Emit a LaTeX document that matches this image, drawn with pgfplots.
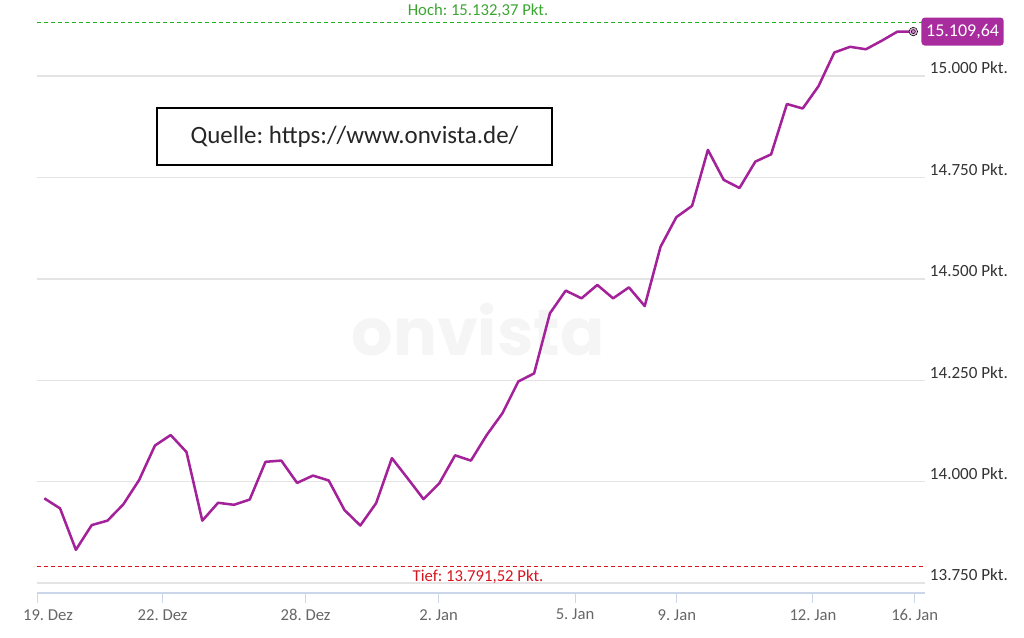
\documentclass[border=0pt]{standalone}
\usepackage{pgfplots}
\pgfplotsset{compat=1.18}
\usepackage{pgfplotstable}
\usepackage{fontspec}
\setmainfont{Carlito}
\newfontfamily\wmfont{Poppins}
\frenchspacing
\definecolor{lineP}{RGB}{163,34,153}
\definecolor{badgeP}{RGB}{168,44,158}
\definecolor{hochG}{RGB}{34,175,34}
\definecolor{hochT}{RGB}{60,165,50}
\definecolor{tiefR}{RGB}{215,20,30}
\definecolor{gridC}{RGB}{228,228,228}
\definecolor{tickB}{RGB}{204,214,235}
\definecolor{ylab}{RGB}{51,51,51}
\definecolor{xlab}{RGB}{102,102,102}
\definecolor{wm}{RGB}{245,245,245}
\pgfplotstableread{
i v
0 13959
1 13934
2 13832
3 13893
4 13904
5 13944
6 14004
7 14089
8 14115
9 14073
10 13904
11 13948
12 13943
13 13956
14 14049
15 14052
16 13997
17 14015
18 14003
19 13930
20 13892
21 13947
22 14058
23 14008
24 13957
25 13996
26 14065
27 14052
28 14115
29 14169
30 14247
31 14267
32 14415
33 14471
34 14452
35 14485
36 14452
37 14479
38 14433
39 14579
40 14652
41 14680
42 14818
43 14744
44 14724
45 14789
46 14807
47 14931
48 14920
49 14975
50 15058
51 15072
52 15066
53 15087
54 15109.64
55 15109.64
}\dax
\begin{document}
\begin{tikzpicture}
\path[use as bounding box] (-27.75pt,-33.75pt) rectangle (740.25pt,444.75pt);
\begin{axis}[
  at={(0,0)}, anchor=south west,
  scale only axis, width=666pt, height=436.4pt,
  xmin=-0.462, xmax=55.74, ymin=13725.6, ymax=15160,
  clip=false,
  axis line style={draw=none},
  xtick pos=bottom, ytick pos=right,
  ymajorgrids, grid style={gridC, line width=1pt},
  ytick={13750,14000,14250,14500,14750,15000},
  yticklabels={13.750 Pkt.,14.000 Pkt.,14.250 Pkt.,14.500 Pkt.,14.750 Pkt.,15.000 Pkt.},
  yticklabel pos=right,
  ytick style={draw=none},
  yticklabel style={font=\fontsize{12.8}{14}\selectfont, text=ylab, anchor=west, inner sep=1pt, xshift=-5pt, yshift=6pt},
  xtick={7.49,16.54,24.96,33.59,40.03,48.65,55.09},
  xticklabels={22. Dez,28. Dez,2. Jan,5. Jan,9. Jan,12. Jan,16. Jan},
  extra x ticks={-0.44},
  extra x tick labels={19. Dez},
  extra x tick style={xticklabel style={xshift=8pt}},
  tick align=outside,
  major tick length=7.5pt,
  xtick style={draw=tickB, line width=0.75pt},
  xticklabel style={font=\fontsize{12.5}{14}\selectfont, text=xlab, inner sep=1pt, yshift=-3.5pt},
]
\node[font=\wmfont\bfseries\fontsize{49}{54}\selectfont, text=wm] at (axis cs:27.45,14374) {onvista};
\draw[tickB, line width=1pt] (rel axis cs:0,0) -- (rel axis cs:1,0);
\draw[hochG, line width=1.1pt, dash pattern=on 3pt off 2.25pt] (axis cs:-0.462,15132.37) -- (axis cs:55.74,15132.37);
\draw[tiefR, line width=1.1pt, dash pattern=on 3pt off 2.25pt] (axis cs:-0.462,13791.52) -- (axis cs:55.74,13791.52);
\node[anchor=south, text=hochT, font=\fontsize{12.5}{14}\selectfont, inner sep=1pt, yshift=2pt] at (axis cs:27.45,15132.37) {Hoch: 15.132,37 Pkt.};
\node[anchor=north, text=tiefR, font=\fontsize{12.5}{14}\selectfont, inner sep=1pt, yshift=-1.5pt] at (axis cs:27.45,13791.52) {Tief: 13.791,52 Pkt.};
\addplot[lineP, line width=1.9pt, line join=round] table[x=i, y=v] {\dax};
\addplot[only marks, mark=*, mark size=3.2pt, mark options={draw=none, fill=lineP!30}] coordinates {(55,15109.64)};
\addplot[only marks, mark=*, mark size=1.5pt, mark options={draw=none, fill=lineP!55}] coordinates {(55,15109.64)};
\node[anchor=west, fill=badgeP, text=white, rounded corners=2.5pt, font=\fontsize{13.5}{15}\selectfont, inner xsep=3.5pt, minimum height=21pt] at (axis cs:55.5,15109.64) {15.109,64};
\node[draw=black, line width=1.1pt, fill=white, minimum width=296.25pt, minimum height=42.75pt, font=\fontsize{18.7}{22}\selectfont, text=black!85] at (axis cs:19.63,14851) {Quelle: https://www.onvista.de/};
\end{axis}
\end{tikzpicture}
\end{document}
